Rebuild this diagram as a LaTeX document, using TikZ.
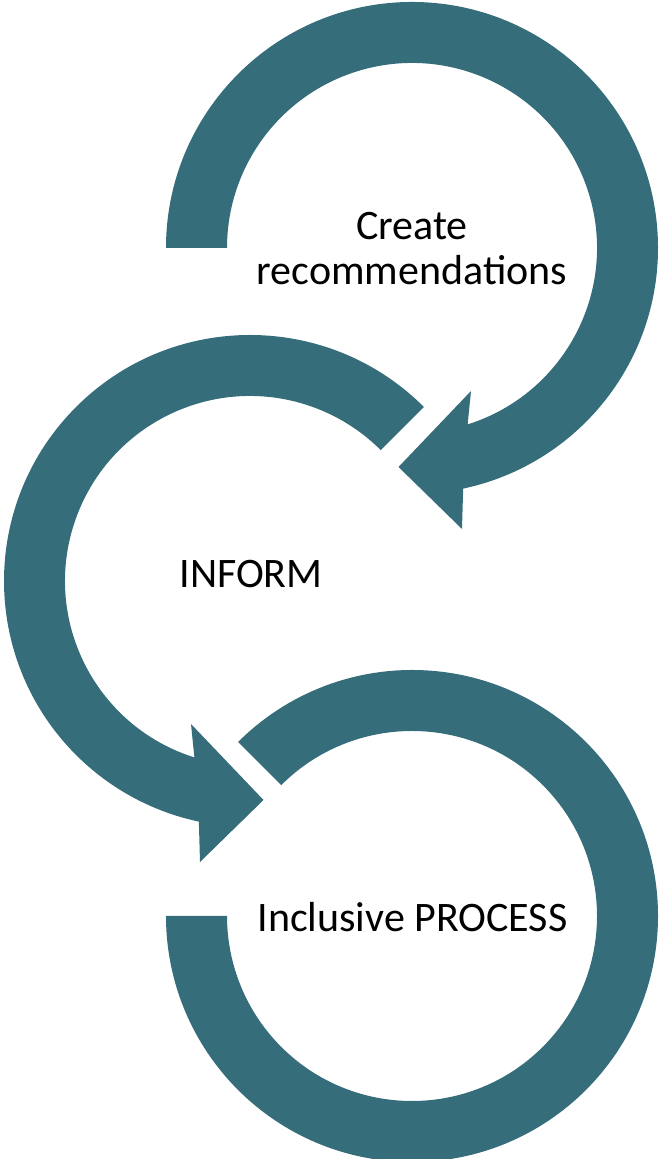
\documentclass[tikz,border=0pt]{standalone}
\usepackage{fontspec}
\setmainfont{Carlito}
\usepackage{tikz}
\usetikzlibrary{calc}
\definecolor{loopteal}{HTML}{366D7A}

\begin{document}
\begin{tikzpicture}[x=0.03cm, y=0.03cm]
		\tikzstyle{band} = [fill=loopteal, draw=none]
		\tikzstyle{looptext} = [font=\fontsize{35.85}{38.4}\selectfont, text=black, inner sep=0pt]

		\useasboundingbox (0,0) rectangle (666,1159);
		\coordinate (top) at (412,911);
		\coordinate (mid) at (250,578);
		\coordinate (bot) at (412,243);

		% top loop, clockwise, head at the bottom
		\path[band] ($(top)+(180:246)$) arc[start angle=180, end angle=-78, radius=246]
			-- ($(top)+(50,-281)$) -- ($(top)+(-13.5,-219)$) -- ($(top)+(59,-143)$)
			-- ($(top)+(-72.5:185)$) arc[start angle=-72.5, end angle=180, radius=185] -- cycle;

		% middle loop, counterclockwise
		\path[band] ($(mid)+(45:246)$) arc[start angle=45, end angle=258, radius=246]
			-- ($(mid)+(-50,-281)$) -- ($(mid)+(13.5,-219)$) -- ($(mid)+(-59,-143)$)
			-- ($(mid)+(252.5:185)$) arc[start angle=252.5, end angle=45, radius=185] -- cycle;

		% bottom loop, no head
		\path[band] ($(bot)+(180:246)$) arc[start angle=180, end angle=495, radius=246]
			-- ($(bot)+(495:185)$) arc[start angle=495, end angle=180, radius=185] -- cycle;

		\node[looptext, align=center] (create) at ($(top)+(0,-1)$) {Create\\recommendations};
		\node[looptext, anchor=base] (inform) at (251,571) {INFORM};
		\node[looptext, anchor=base] (process) at (412.5,227) {Inclusive PROCESS};
\end{tikzpicture}
\end{document}
